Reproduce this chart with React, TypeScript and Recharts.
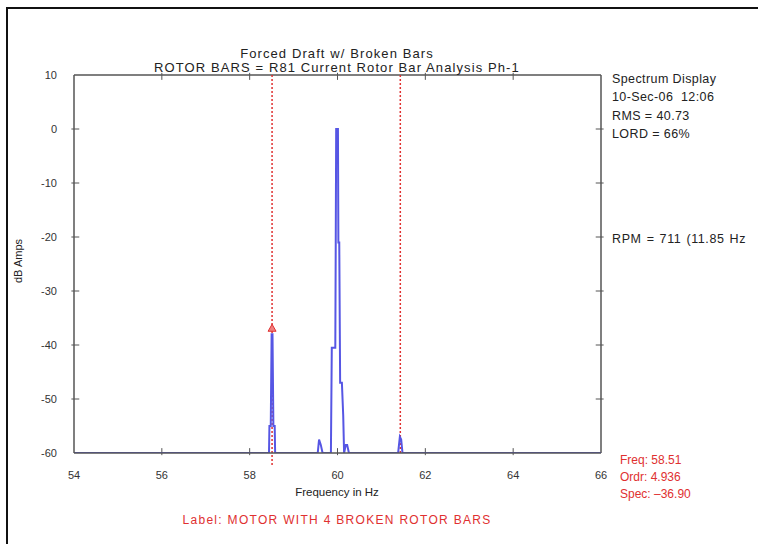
import { Line, LineChart, ReferenceDot, ReferenceLine, XAxis, YAxis } from "recharts";

const xTicks = [54, 56, 58, 60, 62, 64, 66];
const yTicks = [-60, -50, -40, -30, -20, -10, 0, 10];

// spectrum trace, frequency in Hz vs dB Amps
const freq = [
  54, 58.44, 58.45, 58.48, 58.5, 58.52, 58.54, 58.57, 58.58,
  59.55, 59.58, 59.62, 59.66, 59.85, 59.87, 59.95, 59.96, 59.97,
  60.01, 60.02, 60.04, 60.06, 60.1, 60.13, 60.15, 60.19, 60.22, 60.26,
  61.38, 61.42, 61.45, 61.48, 66,
];
const amps = [
  -60, -60, -55, -55, -38, -38, -55, -55, -60,
  -60, -57.5, -58.5, -60, -60, -40.5, -40.5, -21, 0,
  0, -21, -21, -47, -47, -53, -60, -58.5, -58.5, -60,
  -60, -57, -57.5, -60, -60,
];

const cursorFreq = 58.51;
const cursorSpec = -36.9;
const harmonicFreq = 61.43;

const spectrum = freq.map((f, i) => ({ f, db: amps[i] }));

const font = "'Liberation Sans', Arial, sans-serif";
const axisColor = "#555";

function Tri(props: any) {
  const { cx, cy } = props;
  return <path d={`M${cx - 4},${cy + 3} L${cx},${cy - 4} L${cx + 4},${cy + 3} Z`} fill="#f08080" stroke="#e03030" />;
}

const txt = (left: number, top: number, s: string, color = "#222", extra: any = {}) => (
  <div style={{ position: "absolute", left, top, fontSize: 12.5, color, whiteSpace: "nowrap", ...extra }}>{s}</div>
);

export default function App() {
  return (
    <div style={{ position: "absolute", left: 0, top: 0, width: 758, height: 544, background: "#fff", overflow: "hidden", fontFamily: font }}>
      <div style={{ position: "absolute", left: 6, top: 7, width: 800, height: 600, borderLeft: "2px solid #111", borderTop: "2px solid #111" }} />
      <LineChart width={758} height={544} data={spectrum} margin={{ top: 75, right: 157, bottom: 61, left: 34 }}>
        <XAxis
          dataKey="f"
          type="number"
          domain={[54, 66]}
          ticks={xTicks}
          allowDataOverflow
          height={30}
          stroke={axisColor}
          strokeWidth={1.5}
          tickLine={false}
          tickMargin={12}
          tick={{ fill: "#333", fontSize: 11, fontFamily: font }}
        />
        <YAxis
          type="number"
          domain={[-60, 10]}
          ticks={yTicks}
          allowDataOverflow
          width={40}
          stroke={axisColor}
          strokeWidth={1.5}
          tickLine={false}
          tickMargin={11}
          tick={{ fill: "#333", fontSize: 11, fontFamily: font }}
        />
        <ReferenceLine y={10} stroke={axisColor} strokeWidth={1.5} />
        <ReferenceLine x={66} stroke={axisColor} strokeWidth={1.5} />
        {xTicks.slice(1, -1).map((t) => (
          <ReferenceLine key={`xb${t}`} segment={[{ x: t, y: -60.4 }, { x: t, y: -59.1 }]} ifOverflow="visible" stroke={axisColor} />
        ))}
        {xTicks.slice(1, -1).map((t) => (
          <ReferenceLine key={`xt${t}`} segment={[{ x: t, y: 10.4 }, { x: t, y: 9.1 }]} ifOverflow="visible" stroke={axisColor} />
        ))}
        {yTicks.slice(1, -1).map((t) => (
          <ReferenceLine key={`yl${t}`} segment={[{ x: 53.94, y: t }, { x: 54.12, y: t }]} ifOverflow="visible" stroke={axisColor} />
        ))}
        {yTicks.slice(1, -1).map((t) => (
          <ReferenceLine key={`yr${t}`} segment={[{ x: 65.88, y: t }, { x: 66.06, y: t }]} ifOverflow="visible" stroke={axisColor} />
        ))}
        <ReferenceLine
          segment={[{ x: cursorFreq, y: 10 }, { x: cursorFreq, y: -62.3 }]}
          ifOverflow="visible"
          stroke="#e03030"
          strokeDasharray="2 2"
          strokeWidth={1.5}
        />
        <ReferenceLine x={harmonicFreq} stroke="#e03030" strokeDasharray="2 2" strokeWidth={1.5} />
        <Line dataKey="db" type="linear" stroke="#5656e4" strokeWidth={2} dot={false} isAnimationActive={false} />
        <ReferenceDot x={cursorFreq} y={cursorSpec} shape={<Tri />} />
      </LineChart>
      {txt(0, 46, "Forced Draft w/ Broken Bars", "#222", { width: 674, textAlign: "center", fontSize: 13, letterSpacing: 1.1 })}
      {txt(0, 60, "ROTOR BARS = R81 Current Rotor Bar Analysis Ph-1", "#222", { width: 674, textAlign: "center", fontSize: 13, letterSpacing: 1.1 })}
      {txt(612, 72, "Spectrum Display", "#222", { letterSpacing: 0.4 })}
      {txt(612, 90, "10-Sec-06  12:06", "#222", { letterSpacing: 0.4, whiteSpace: "pre" })}
      {txt(612, 109, "RMS = 40.73", "#222", { letterSpacing: 0.4 })}
      {txt(612, 127, "LORD = 66%", "#222", { letterSpacing: 0.4 })}
      {txt(612, 232, "RPM = 711 (11.85 Hz", "#222", { letterSpacing: 0.6, wordSpacing: 1 })}
      {txt(620, 453, "Freq: 58.51", "#e03030", { fontSize: 12 })}
      {txt(620, 470, "Ordr: 4.936", "#e03030", { fontSize: 12 })}
      {txt(620, 487, "Spec: \u201336.90", "#e03030", { fontSize: 12 })}
      {txt(0, 486, "Frequency in Hz", "#222", { width: 674, textAlign: "center", fontSize: 11.5 })}
      {txt(0, 513, "Label: MOTOR WITH 4 BROKEN ROTOR BARS", "#e03030", { width: 674, textAlign: "center", fontSize: 12, letterSpacing: 1.3 })}
      {txt(-12, 255, "dB Amps", "#222", { transform: "rotate(-90deg)", width: 60, textAlign: "center", fontSize: 11 })}
    </div>
  );
}
